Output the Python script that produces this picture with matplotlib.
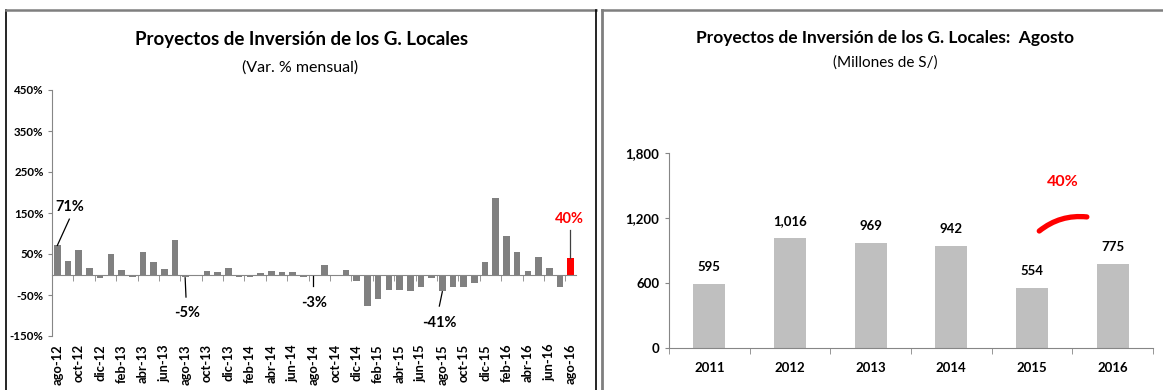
import matplotlib
matplotlib.use("Agg")
import matplotlib.pyplot as plt
from matplotlib.lines import Line2D
from matplotlib.path import Path
from matplotlib.patches import PathPatch

# ---------------- data ----------------
var_pct = [71, 33, 59, 17, -9, 50, 11, -5, 56, 30,
           14, 84, -5, -3, 8, 5, 17, -6, -6, 4,
           8, 5, 5, -6, -3, 23, -4, 11, -15, -78,
           -59, -37, -37, -40, -31, -8, -41, -31, -31, -20,
           30, 186, 93, 56, 8, 42, 17, -30, 40]
month_ticks = ["ago-12", "oct-12", "dic-12", "feb-13", "abr-13", "jun-13", "ago-13",
               "oct-13", "dic-13", "feb-14", "abr-14", "jun-14", "ago-14", "oct-14",
               "dic-14", "feb-15", "abr-15", "jun-15", "ago-15", "oct-15", "dic-15",
               "feb-16", "abr-16", "jun-16", "ago-16"]
left_yticks = [-150, -50, 50, 150, 250, 350, 450]

years = ["2011", "2012", "2013", "2014", "2015", "2016"]
agosto = [595, 1016, 969, 942, 554, 775]
right_yticks = [0, 600, 1200, 1800]
growth_label = "40%"

FONT = ["Lato", "DejaVu Sans"]
NARROW = ["Liberation Sans Narrow", "Lato", "DejaVu Sans"]
plt.rcParams["font.family"] = FONT

fig = plt.figure(figsize=(11.63, 3.90), dpi=100)
W, H = 1163.0, 390.0

def fx(px):
    return px / W

def fy(py):
    return 1 - py / H

# ---------------- panel frames ----------------
fig.add_artist(Line2D([fx(6), fx(6)], [fy(10), 0], color="black", lw=1.2))
fig.add_artist(Line2D([fx(6), fx(595.5)], [fy(10), fy(10)], color="#7f7f7f", lw=1.8))
fig.add_artist(Line2D([fx(595.5), fx(595.5)], [fy(10), 0], color="black", lw=1.2))
fig.add_artist(Line2D([fx(602), fx(602)], [fy(10), 0], color="#7f7f7f", lw=2.0))
fig.add_artist(Line2D([fx(602), 1], [fy(10), fy(10)], color="#7f7f7f", lw=1.8))

# ---------------- left chart ----------------
axL = fig.add_axes([fx(52), fy(336), (576 - 52) / W, (336 - 90) / H])
n = len(var_pct)
xs = list(range(n))
colors = ["#808080"] * (n - 1) + ["#ff0000"]
axL.bar(xs, var_pct, width=0.62, color=colors, zorder=2)
axL.set_xlim(-0.5, n - 0.5)
axL.set_ylim(-150, 450)
axL.set_yticks(left_yticks)
axL.set_yticklabels([f"{v}%" for v in left_yticks], fontweight="bold",
                    fontsize=8.3, family=NARROW)
axL.spines["top"].set_visible(False)
axL.spines["right"].set_visible(False)
axL.spines["left"].set_color("#868686")
axL.spines["bottom"].set_color("#868686")
axL.spines["bottom"].set_position(("data", 0))
axL.tick_params(axis="y", direction="out", length=3, color="#868686", pad=3)
major_pos = list(range(0, n, 2))
axL.set_xticks(major_pos)
axL.set_xticklabels(month_ticks, rotation=90, fontweight="bold", fontsize=9.3,
                    va="top", ha="center")
axL.tick_params(axis="x", which="major", length=0, pad=50)
axL.set_xticks([i + 1.5 for i in range(-2, n - 1, 2)], minor=True)
axL.tick_params(axis="x", which="minor", direction="out", length=4, color="#868686")

ann_kw = dict(fontsize=10.5, fontweight="bold", ha="center", va="center")
def annot(txt, xy, xytext_line, xytext, color="black", lcolor="black"):
    axL.plot([xy[0], xytext_line[0]], [xy[1], xytext_line[1]], color=lcolor, lw=0.9,
             zorder=3, clip_on=False)
    axL.text(xytext[0], xytext[1], txt, color=color, **ann_kw)

annot(f"{var_pct[0]}%", (0.0, var_pct[0]), (1.12, 135), (1.14, 165))
annot(f"{var_pct[12]}%", (11.95, -8), (12.03, -55), (12.1, -94))
annot(f"{var_pct[24]}%", (23.93, -3), (23.93, -28), (24.0, -69))
annot(f"{var_pct[36]}%", (36.0, -42), (35.72, -77), (35.7, -118))
annot(f"{var_pct[48]}%", (47.95, var_pct[48]), (47.95, 108), (47.9, 135),
      color="#ff0000", lcolor="#404040")

fig.text(fx(302), fy(40), "Proyectos de Inversión de los G. Locales",
         fontsize=13.5, fontweight="bold", ha="center", va="center")
fig.text(fx(300), fy(68), "(Var. % mensual)", fontsize=11.5, ha="center", va="center")

# ---------------- right chart ----------------
axR = fig.add_axes([fx(669), fy(348), (1153 - 669) / W, (348 - 153) / H])
xr = list(range(len(years)))
axR.bar(xr, agosto, width=0.40, color="#bfbfbf", zorder=2)
axR.set_xlim(-0.5, len(years) - 0.5)
axR.set_ylim(0, 1800)
axR.set_yticks(right_yticks)
axR.set_yticklabels([f"{v:,}" for v in right_yticks], fontweight="bold", fontsize=9.5)
axR.spines["top"].set_visible(False)
axR.spines["right"].set_visible(False)
axR.spines["left"].set_color("#868686")
axR.spines["bottom"].set_color("#868686")
axR.tick_params(axis="y", direction="out", length=3, color="#868686", pad=4)
axR.set_xticks(xr)
axR.set_xticklabels(years, fontweight="bold", fontsize=9.5)
axR.tick_params(axis="x", which="major", length=0, pad=10)
axR.set_xticks([i + 0.5 for i in range(-1, len(years))], minor=True)
axR.tick_params(axis="x", which="minor", direction="out", length=4, color="#868686")
for x, v in zip(xr, agosto):
    axR.annotate(f"{v:,}", (x, v), xytext=(0, 12), textcoords="offset points",
                 ha="center", va="center", fontsize=9.5, fontweight="bold")

# red growth stroke between 2015 and 2016
verts = [(4.09, 1080), (4.35, 1235), (4.68, 1210)]
path = Path(verts, [Path.MOVETO, Path.CURVE3, Path.CURVE3])
axR.add_patch(PathPatch(path, facecolor="none", edgecolor="#ff0000", lw=3.8,
                        capstyle="round", clip_on=False, zorder=4))
axR.text(4.38, 1535, growth_label, color="#ff0000", fontsize=11.5, fontweight="bold",
         ha="center", va="center")

fig.text(fx(885), fy(38), "Proyectos de Inversión de los G. Locales:  Agosto",
         fontsize=12.5, fontweight="bold", ha="center", va="center")
fig.text(fx(885), fy(63), "(Millones de S/)", fontsize=11, ha="center", va="center")

fig.savefig("out.png", dpi=100)
